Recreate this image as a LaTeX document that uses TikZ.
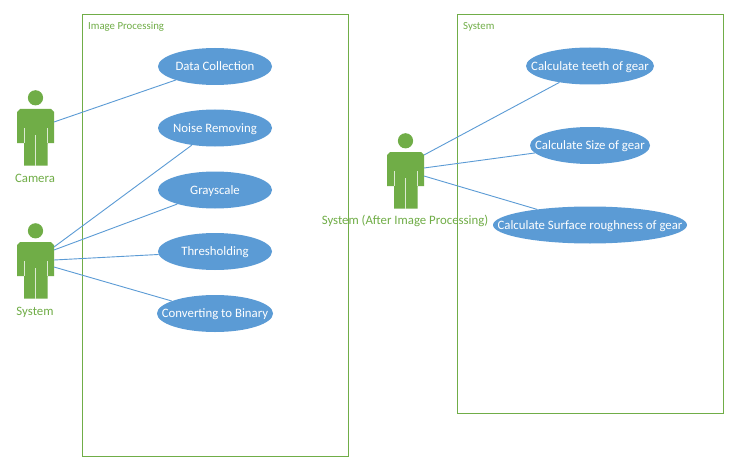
\documentclass[tikz,border=0pt]{standalone}
\usepackage{fontspec}
\setmainfont{Carlito}
\usetikzlibrary{shapes.geometric}
\definecolor{ugreen}{HTML}{70AD47}
\definecolor{ublue}{HTML}{5B9BD5}
\newcommand{\zw}[1]{\makebox[0pt][c]{#1}}
\tikzset{
  sysbox/.style={draw=ugreen,line width=1pt,fill=none},
  usecase/.style={ellipse,fill=ublue,text=white,inner sep=0pt,text height=9.5pt,text depth=1pt,font=\fontsize{12.8}{14}\selectfont},
  boxlabel/.style={text=ugreen,inner sep=0pt,anchor=west,font=\fontsize{10.8}{12}\selectfont},
  actorlabel/.style={text=ugreen,inner sep=0pt,font=\fontsize{12.8}{14}\selectfont},
  link/.style={draw=ublue,line width=0.9pt},
  actorbody/.style={fill=ugreen,draw=none},
  slit/.style={draw=white!75!ugreen,line width=0.9pt},
  actorhit/.style={inner sep=0pt,minimum width=37pt,minimum height=56.5pt}
}
% name, x of body left, y of body top
\newcommand{\umlactor}[3]{%
  \begin{scope}[shift={(#2,#3)}]
    \fill[actorbody] (18.5,-11.2) circle (7.6);
    \fill[actorbody] (0,3) -- (3,0) -- (34,0) -- (37,3) -- (37,34) -- (30.5,34) -- (30.5,56.5) -- (7,56.5) -- (7,34) -- (0,34) -- cycle;
    \draw[slit] (7,19) -- (7,34);
    \draw[slit] (30.5,19) -- (30.5,34);
    \draw[slit] (18.5,26) -- (18.5,56.5);
    \node[actorhit] (#1) at (18.5,28.25) {};
  \end{scope}}
\begin{document}
\begin{tikzpicture}[x=1pt,y=-1pt]
\useasboundingbox (0,0) rectangle (746,468);
\fill[white] (0,0) rectangle (746,468);
\umlactor{cam}{17}{109}
\umlactor{sysa}{17}{242}
\umlactor{sysc}{387}{152}
\node[actorlabel] (camlabel) at (35,178.6) {Camera};
\node[actorlabel] (sysalabel) at (35,312) {System};
\node[actorlabel] (syscl) at (405,221) {System (After Image Processing)};

\node[sysbox,minimum width=266pt,minimum height=442pt,inner sep=0pt] (ipbox) at (215.4,235.2) {};
\node[sysbox,minimum width=266pt,minimum height=399pt,inner sep=0pt] (sysb) at (590.4,213.7) {};
\node[boxlabel] (iplabel) at (88,26.5) {Image Processing};
\node[boxlabel] (syslabel) at (463,26.5) {System};

\node[usecase,minimum width=114pt,minimum height=37pt] (dc) at (215,66.5) {\zw{Data Collection}};
\node[usecase,minimum width=114pt,minimum height=37pt] (nr) at (215,128) {\zw{Noise Removing}};
\node[usecase,minimum width=114pt,minimum height=37pt] (gs) at (215,190) {\zw{Grayscale}};
\node[usecase,minimum width=114pt,minimum height=37pt] (th) at (215,251.5) {\zw{Thresholding}};
\node[usecase,minimum width=116pt,minimum height=37pt] (cb) at (215,313.5) {\zw{Converting to Binary}};
\node[usecase,minimum width=128pt,minimum height=37pt] (ct) at (590,66) {\zw{Calculate teeth of gear}};
\node[usecase,minimum width=120pt,minimum height=37pt] (cs) at (590,145.5) {\zw{Calculate Size of gear}};
\node[usecase,minimum width=194pt,minimum height=37pt] (cr) at (590,225) {\zw{Calculate Surface roughness of gear}};

\coordinate (c1) at (54,122);
\coordinate (a1) at (54,247);
\coordinate (a2) at (54,250);
\coordinate (a3) at (54,260);
\coordinate (a4) at (54,267);
\coordinate (s1) at (424,155);
\coordinate (s2) at (424,168);
\coordinate (s3) at (424,176);
\draw[link] (c1) -- (dc);
\draw[link] (a1) -- (nr);
\draw[link] (a2) -- (gs);
\draw[link] (a3) -- (th);
\draw[link] (a4) -- (cb);
\draw[link] (s1) -- (ct);
\draw[link] (s2) -- (cs);
\draw[link] (s3) -- (cr);
\end{tikzpicture}
\end{document}
